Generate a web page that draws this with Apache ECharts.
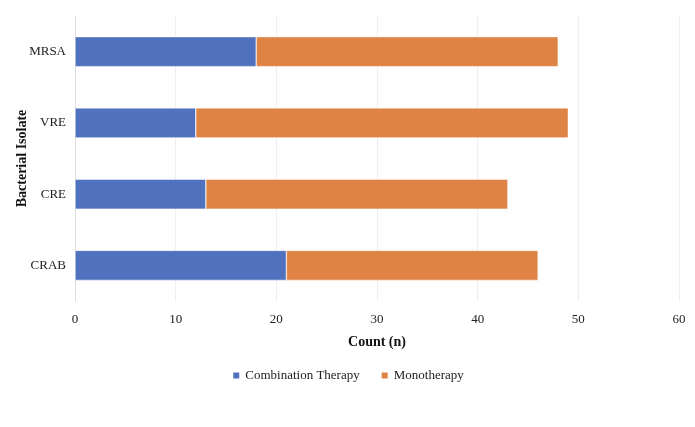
<!DOCTYPE html>
<html><head><meta charset="utf-8">
<script src="https://cdn.jsdelivr.net/npm/echarts@6/dist/echarts.min.js"></script>
<style>html,body{margin:0;padding:0;background:#fff}#c{width:695px;height:427px}</style>
</head><body><div id="c"></div>
<script>
const categories = ['CRAB', 'CRE', 'VRE', 'MRSA'];
const combination = [21, 13, 12, 18];
const monotherapy = [25, 30, 37, 30];
const xTicks = [0, 10, 20, 30, 40, 50, 60];

const font = 'Liberation Serif';
const chart = echarts.init(document.getElementById('c'));
chart.setOption({
  animation: false,
  textStyle: { fontFamily: font },
  grid: { left: 75, right: 16, top: 16, bottom: 126, containLabel: false, outerBoundsMode: 'none' },
  legend: {
    bottom: 40, left: 'center', itemWidth: 8, itemHeight: 8, itemGap: 20,
    icon: 'rect',
    textStyle: { fontFamily: font, fontSize: 13, color: '#222' },
    data: ['Combination Therapy', 'Monotherapy']
  },
  xAxis: {
    type: 'value', min: xTicks[0], max: xTicks[xTicks.length - 1], interval: 10,
    name: 'Count (n)', nameLocation: 'middle', nameGap: 34, nameMoveOverlap: false,
    nameTextStyle: { fontFamily: font, fontSize: 14, fontWeight: 'bold', color: '#111' },
    axisLine: { show: false }, axisTick: { show: false },
    axisLabel: { fontFamily: font, fontSize: 13, color: '#222', margin: 12 },
    splitLine: { lineStyle: { color: '#eeeeee', width: 1 } }
  },
  yAxis: {
    type: 'category', data: categories,
    name: 'Bacterial Isolate', nameLocation: 'middle', nameGap: 46, nameRotate: 90, nameMoveOverlap: false,
    nameTextStyle: { fontFamily: font, fontSize: 14, fontWeight: 'bold', color: '#111' },
    axisLine: { show: true, lineStyle: { color: '#dddddd' } }, axisTick: { show: false },
    axisLabel: { fontFamily: font, fontSize: 13, color: '#222', margin: 9 }
  },
  series: [
    { name: 'Combination Therapy', type: 'bar', stack: 't', data: combination, barWidth: 30,
      itemStyle: { color: '#4f71be', borderColor: '#fff', borderWidth: 0.5 } },
    { name: 'Monotherapy', type: 'bar', stack: 't', data: monotherapy, barWidth: 30,
      itemStyle: { color: '#df8344', borderColor: '#fff', borderWidth: 0.5 } }
  ]
});
</script></body></html>
